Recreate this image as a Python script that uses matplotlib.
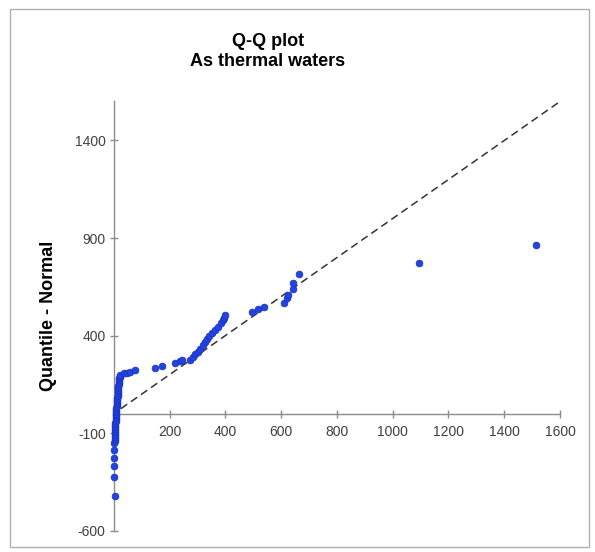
import matplotlib
matplotlib.use("Agg")
import matplotlib.pyplot as plt
from matplotlib.patches import Rectangle

plt.rcParams['font.family'] = ['Liberation Sans', 'DejaVu Sans']
plt.rcParams['axes.unicode_minus'] = False

# As concentration (x) vs normal quantile (y)
as_values = [2, 0, 1, 0, 1, 1, 2, 2, 2, 3, 3, 3, 4, 4, 5, 5, 6, 6, 7, 7,
             8, 8, 9, 9, 10, 10, 11, 12, 12, 13, 13, 14, 15, 15, 16, 17, 18, 18, 19, 20,
             21, 22, 35, 46, 58, 75,
             147, 171,
             219, 237, 245,
             273, 285, 291, 300, 309, 318, 326, 333, 342, 352, 362, 374, 383, 392, 396, 399,
             496, 517, 539,
             610, 621, 625, 643, 643, 664,
             1095, 1515]
normal_quantile = [-423, -325, -269, -228, -187, -151, -140, -130, -120, -110, -100, -90, -80, -70, -60, -50, -40, -30, -20, -10,
                   0, 10, 20, 30, 40, 50, 60, 70, 80, 90, 100, 110, 120, 130, 140, 150, 160, 170, 180, 188,
                   194, 199, 206, 210, 214, 223,
                   233, 243,
                   259, 268, 274,
                   276, 290, 305, 318, 333, 350, 365, 382, 398, 412, 428, 444, 462, 480, 492, 505,
                   520, 535, 548,
                   567, 590, 608, 638, 670, 714,
                   770, 864]
ref_line = [25, 1605]

x_ticks = [200, 400, 600, 800, 1000, 1200, 1400, 1600]
y_ticks = [-600, -100, 400, 900, 1400]

fig = plt.figure(figsize=(5.95, 5.52), dpi=100)
ax = fig.add_axes([0.1728, 0.0212, 0.7918, 0.8126])
ax.set_xlim(-40, 1650)
ax.set_ylim(-650, 1650)

axis_col = '#8c8c8c'
ax.plot(ref_line, ref_line, ls=(0, (5, 3)), color='#333333', lw=1.1, zorder=2)
ax.scatter(as_values, normal_quantile, s=24, color='#2244e0', edgecolors='#1a2fc0',
           linewidths=0.5, zorder=3)

for side in ['top', 'right']:
    ax.spines[side].set_visible(False)
ax.spines['left'].set_position(('data', 0))
ax.spines['bottom'].set_position(('data', 0))
ax.spines['left'].set_bounds(-600, 1600)
ax.spines['bottom'].set_bounds(0, 1600)
for side in ['left', 'bottom']:
    ax.spines[side].set_color(axis_col)
    ax.spines[side].set_linewidth(1.0)

ax.set_xticks(x_ticks)
ax.set_yticks(y_ticks)
ax.tick_params(axis='both', direction='inout', length=6, width=1.0, color=axis_col,
               labelsize=10, labelcolor='#404040')
ax.tick_params(axis='x', pad=5)
ax.tick_params(axis='y', pad=3)
ax.patch.set_visible(False)

fig.text(268 / 595, 1 - 33 / 552, 'Q-Q plot\nAs thermal waters', ha='center', va='top',
         fontsize=13, fontweight='bold', linespacing=1.25)
fig.text(49 / 595, 1 - 316 / 552, 'Quantile - Normal', rotation=90, ha='center', va='center',
         fontsize=13, fontweight='bold')

fig.add_artist(Rectangle((10 / 595, 5 / 552), 579 / 595, 538 / 552, transform=fig.transFigure,
                         fill=False, edgecolor='#b0b0b0', lw=1.0))

fig.savefig('out.png', dpi=100)
